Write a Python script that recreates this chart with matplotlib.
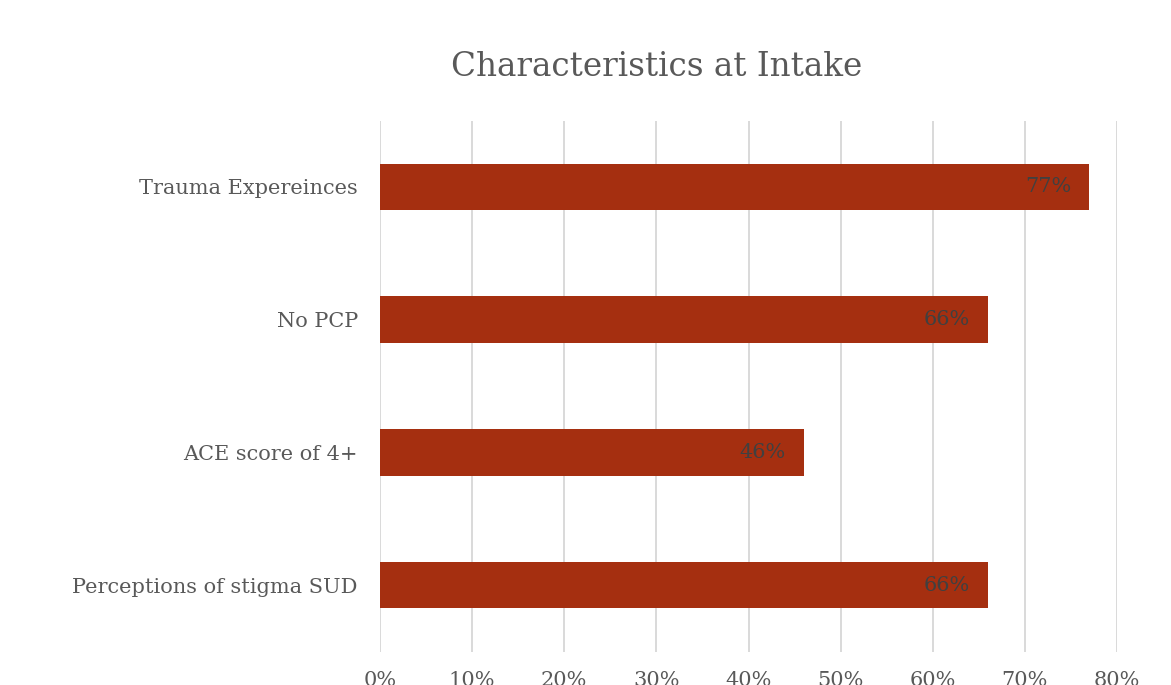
import matplotlib
matplotlib.use("Agg")
import matplotlib.pyplot as plt
from matplotlib.ticker import PercentFormatter

categories = ["Trauma Expereinces", "No PCP", "ACE score of 4+", "Perceptions of stigma SUD"]
values = [77, 66, 46, 66]
title = "Characteristics at Intake"
xticks = [0, 10, 20, 30, 40, 50, 60, 70, 80]

bar_color = "#A52F10"
text_gray = "#595959"
label_gray = "#404040"

plt.rcParams['font.family'] = ['DejaVu Serif']

fig = plt.figure(figsize=(11.71, 6.85), dpi=100)
ax = fig.add_axes([380/1171, 1-651.5/685, (1117-380)/1171, (651.5-120.5)/685])

ypos = list(range(len(categories)))
bars = ax.barh(ypos, values, height=0.35, color=bar_color, zorder=3)
ax.set_yticks(ypos)
ax.set_yticklabels(categories, fontsize=15, color=text_gray)
ax.set_ylim(len(categories) - 0.5, -0.5)

ax.set_xlim(0, 80)
ax.set_xticks(xticks)
ax.xaxis.set_major_formatter(PercentFormatter(decimals=0))
ax.tick_params(axis='x', length=0, pad=14, labelsize=15, labelcolor=text_gray)
ax.tick_params(axis='y', length=0, pad=16)
ax.grid(axis='x', color="#D9D9D9", linewidth=1.4, zorder=0)
ax.set_axisbelow(True)
for s in ax.spines.values():
    s.set_visible(False)

for b, v in zip(bars, values):
    ax.annotate(f"{v}%", xy=(v, b.get_y() + b.get_height()/2), xytext=(-13, 0),
                textcoords="offset points", ha="right", va="center",
                fontsize=15, color=label_gray, zorder=4)

fig.text((450+863)/2/1171, 1-67/685, title, ha="center", va="center",
         fontsize=23.5, color=text_gray)

fig.savefig("out.png", dpi=100)
